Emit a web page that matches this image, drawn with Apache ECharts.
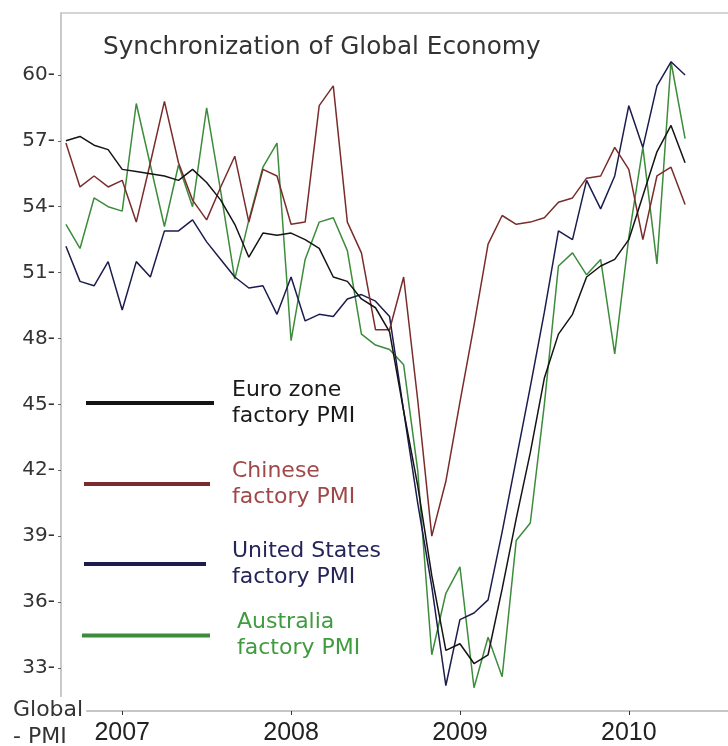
<!DOCTYPE html>
<html><head><meta charset="utf-8">
<script src="https://cdn.jsdelivr.net/npm/echarts@6/dist/echarts.min.js"></script>
<style>html,body{margin:0;padding:0;background:#fff}#c{width:728px;height:746px}</style>
</head><body><div id="c"></div><script>
const months = ['2006-09','2006-10','2006-11','2006-12',
 '2007-01','2007-02','2007-03','2007-04','2007-05','2007-06','2007-07','2007-08','2007-09','2007-10','2007-11','2007-12',
 '2008-01','2008-02','2008-03','2008-04','2008-05','2008-06','2008-07','2008-08','2008-09','2008-10','2008-11','2008-12',
 '2009-01','2009-02','2009-03','2009-04','2009-05','2009-06','2009-07','2009-08','2009-09','2009-10','2009-11','2009-12',
 '2010-01','2010-02','2010-03','2010-04','2010-05'];

const euroPMI = [57.0, 57.2, 56.8, 56.6,
 55.7, 55.6, 55.5, 55.4, 55.2, 55.7, 55.1, 54.3, 53.2, 51.7, 52.8, 52.7,
 52.8, 52.5, 52.1, 50.8, 50.6, 49.8, 49.4, 48.3, 44.7, 41.3, 37.2, 33.8,
 34.1, 33.2, 33.6, 36.6, 39.8, 42.8, 46.2, 48.2, 49.1, 50.8, 51.3, 51.6,
 52.5, 54.5, 56.5, 57.7, 56.0];

const chinaPMI = [56.9, 54.9, 55.4, 54.9,
 55.2, 53.3, 56.0, 58.8, 56.0, 54.3, 53.4, 54.9, 56.3, 53.3, 55.7, 55.4,
 53.2, 53.3, 58.6, 59.5, 53.3, 51.9, 48.4, 48.4, 50.8, 45.2, 39.0, 41.5,
 45.1, 48.6, 52.3, 53.6, 53.2, 53.3, 53.5, 54.2, 54.4, 55.3, 55.4, 56.7,
 55.7, 52.5, 55.4, 55.8, 54.1];

const usPMI = [52.2, 50.6, 50.4, 51.5,
 49.3, 51.5, 50.8, 52.9, 52.9, 53.4, 52.4, 51.6, 50.8, 50.3, 50.4, 49.1,
 50.8, 48.8, 49.1, 49.0, 49.8, 50.0, 49.7, 49.0, 44.7, 40.5, 36.7, 32.2,
 35.2, 35.5, 36.1, 39.2, 42.5, 45.8, 49.2, 52.9, 52.5, 55.2, 53.9, 55.4,
 58.6, 56.7, 59.5, 60.6, 60.0];

const ausPMI = [53.2, 52.1, 54.4, 54.0,
 53.8, 58.7, 55.9, 53.1, 55.9, 54.0, 58.5, 54.7, 50.7, 53.4, 55.8, 56.9,
 47.9, 51.6, 53.3, 53.5, 52.0, 48.2, 47.7, 47.5, 46.8, 42.0, 33.6, 36.4,
 37.6, 32.1, 34.4, 32.6, 38.8, 39.6, 45.0, 51.3, 51.9, 50.9, 51.6, 47.3,
 52.6, 56.7, 51.4, 60.6, 57.1];

const yTicks = [33, 36, 39, 42, 45, 48, 51, 54, 57, 60];
const yearLabels = ['2007', '2008', '2009', '2010'];
const seriesNames = ['Euro zone\nfactory PMI', 'Chinese\nfactory PMI', 'United States\nfactory PMI', 'Australia\nfactory PMI'];

function monthIndex(s) { const p = s.split('-').map(Number); return (p[0] - 2007) * 12 + (p[1] - 1); }
const xs = months.map(monthIndex);
const yearPos = yearLabels.map(y => monthIndex(y + '-01'));
const pairs = vals => vals.map((v, i) => [xs[i], v]);

const styles = [
  {data: euroPMI, color: '#141414', text: '#1a1a1a', w: 128, left: 86, top: 377, pad: [0, 0, 0, 13]},
  {data: chinaPMI, color: '#7a2c2c', text: '#a04848', w: 126, left: 84, top: 458, pad: [0, 0, 0, 17]},
  {data: usPMI, color: '#1c1c4e', text: '#25255a', w: 122, left: 84, top: 530, pad: [16, 0, 0, 21]},
  {data: ausPMI, color: '#3c8c3c', text: '#3f9c3f', w: 128, left: 82, top: 600, pad: [19, 0, 0, 22]}
];

const X_MIN = -4.35, X_MAX = 43.05;
const FONT = "'DejaVu Sans', Verdana, sans-serif";
const chart = echarts.init(document.getElementById('c'), null, {renderer: 'canvas'});
chart.setOption({
  animation: false,
  backgroundColor: '#fff',
  title: {
    text: 'Synchronization of Global Economy',
    left: 103, top: 35, padding: 0,
    textStyle: {fontFamily: FONT, fontSize: 24.7, fontWeight: 'normal', color: '#333'}
  },
  legend: styles.map((s, i) => ({
    data: [seriesNames[i]],
    left: s.left, top: s.top, padding: 0,
    orient: 'vertical', icon: 'rect', itemWidth: s.w, itemHeight: 4,
    selectedMode: false,
    textStyle: {fontFamily: FONT, fontSize: 22, lineHeight: 26, color: s.text, padding: s.pad}
  })),
  grid: {left: 61, top: 13, right: 0, bottom: 35, show: false},
  xAxis: [{
    type: 'value', min: X_MIN, max: X_MAX,
    splitLine: {show: false},
    axisLine: {show: true, onZero: false, lineStyle: {color: '#b4b4b4', width: 1.5}},
    axisTick: {show: true, customValues: yearPos, length: 4, lineStyle: {color: '#333'}},
    axisLabel: {
      customValues: yearPos, margin: 10,
      formatter: v => yearLabels[yearPos.indexOf(v)],
      fontFamily: "'Liberation Sans', Arial, sans-serif",
      fontSize: 25, color: '#222'
    }
  }, {
    type: 'value', position: 'top', min: X_MIN, max: X_MAX,
    splitLine: {show: false},
    axisLine: {show: true, onZero: false, lineStyle: {color: '#c8c8c8', width: 1.5}},
    axisTick: {show: false},
    axisLabel: {show: false}
  }],
  yAxis: {
    type: 'value', min: 31.04, max: 62.82,
    splitLine: {show: false},
    axisLine: {show: true, onZero: false, lineStyle: {color: '#b8b8b8', width: 1.5}},
    axisTick: {show: true, customValues: yTicks, length: 3, lineStyle: {color: '#666'}},
    axisLabel: {
      customValues: yTicks, margin: 6,
      formatter: v => v + '-',
      fontFamily: FONT, fontSize: 20, color: '#333'
    }
  },
  graphic: [{
    type: 'text', left: 13, top: 697, z: 100,
    style: {text: 'Global\n- PMI', font: "22px 'DejaVu Sans'", lineHeight: 27, fill: '#333',
      backgroundColor: '#fff', padding: [0, 3, 0, 0]}
  }],
  series: styles.map((s, i) => ({
    name: seriesNames[i], type: 'line', data: pairs(s.data),
    symbol: 'none', showSymbol: false, clip: true,
    color: s.color,
    lineStyle: {color: s.color, width: 1.5},
    itemStyle: {color: s.color}
  })).reverse()
});
</script></body></html>
